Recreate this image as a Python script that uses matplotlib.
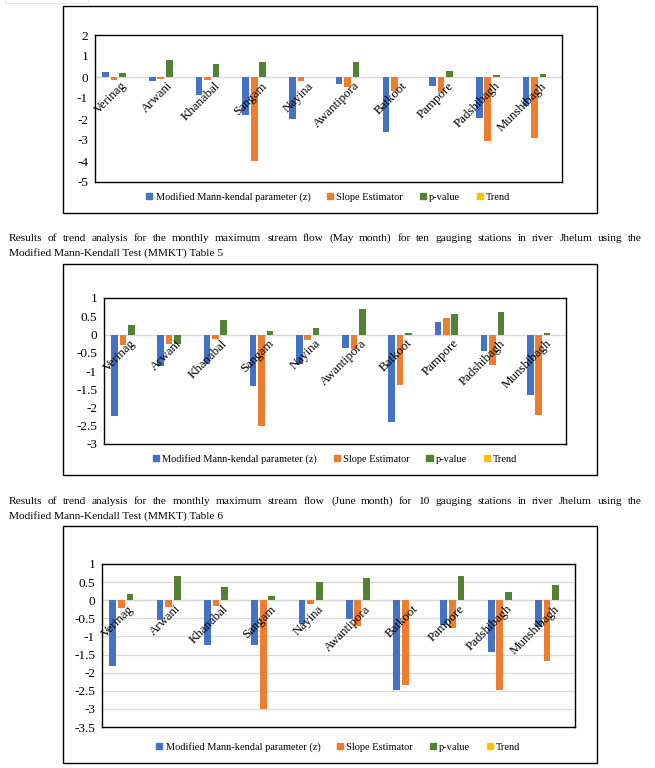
import numpy as np
import matplotlib
matplotlib.use("Agg")
import matplotlib.pyplot as plt
from matplotlib.patches import Rectangle, Patch
from matplotlib.transforms import offset_copy

plt.rcParams['font.family'] = ['Liberation Serif', 'DejaVu Serif']
plt.rcParams['axes.unicode_minus'] = False

stations = ["Verinag", "Arwani", "Khanabal", "Sangam", "Nayina",
            "Awantipora", "Batkoot", "Pampore", "Padshibagh", "Munshibagh"]
series_names = ["Modified Mann-kendal parameter (z)", "Slope Estimator", "p-value", "Trend"]
colors = ["#4472C4", "#ED7D31", "#548235", "#FFC000"]

# first chart (month before May)
first_z = [0.22, -0.17, -0.84, -1.79, -1.98, -0.33, -2.60, -0.41, -1.97, -1.40]
first_slope = [-0.13, -0.08, -0.13, -3.98, -0.17, -0.46, -0.65, -0.70, -3.03, -2.92]
first_p = [0.20, 0.82, 0.63, 0.73, 0.0, 0.73, 0.0, 0.30, 0.11, 0.16]
first_trend = [0, 0, 0, 0, 0, 0, 0, 0, 0, 0]

# May
may_z = [-2.23, -0.86, -0.82, -1.40, -0.82, -0.37, -2.40, 0.35, -0.44, -1.66]
may_slope = [-0.30, -0.27, -0.12, -2.51, -0.14, -0.40, -1.39, 0.46, -0.83, -2.21]
may_p = [0.25, -0.27, 0.41, 0.10, 0.19, 0.70, 0.03, 0.57, 0.62, 0.03]
may_trend = [0, 0, 0, 0, 0, 0, 0, 0, 0, 0]

# June
june_z = [-1.81, -0.55, -1.24, -1.23, -0.65, -0.51, -2.49, -0.69, -1.42, -0.75]
june_slope = [-0.22, -0.19, -0.15, -3.01, -0.10, -0.72, -2.33, -0.78, -2.49, -1.67]
june_p = [0.18, 0.68, 0.37, 0.13, 0.49, 0.62, 0.0, 0.68, 0.24, 0.43]
june_trend = [0, 0, 0, 0, 0, 0, 0, 0, 0, 0]

caption_may = ("Results of trend analysis for the monthly maximum stream flow (May month) for ten gauging stations in river Jhelum using the",
               "Modified Mann-Kendall Test (MMKT) Table 5")
caption_june = ("Results of trend analysis for the monthly maximum stream flow (June month) for 10 gauging stations in river Jhelum using the",
                "Modified Mann-Kendall Test (MMKT) Table 6")

W, H = 655, 768
fig = plt.figure(figsize=(W / 100, H / 100), dpi=100)


def rect(x0, y0, x1, y1):
    return [x0 / W, 1 - y1 / H, (x1 - x0) / W, (y1 - y0) / H]


def border(x0, y0, x1, y1, color="black", lw=1.0):
    r = Rectangle((x0 / W, 1 - y1 / H), (x1 - x0) / W, (y1 - y0) / H,
                  transform=fig.transFigure, fill=False, ec=color, lw=lw)
    fig.add_artist(r)


def bar_chart(box, outer, data, ymin, ymax, step, grid, legend_y):
    border(*outer)
    ax = fig.add_axes(rect(*box))
    x = np.arange(len(stations))
    w = 1 / 7
    for k, vals in enumerate(data):
        off = (k - 1.5) * 1.27 * w
        ax.bar(x + off, vals, width=w, color=colors[k], zorder=3)
    ax.set_xlim(-0.5, len(stations) - 0.5)
    ax.set_ylim(ymin, ymax)
    ticks = np.arange(ymin, ymax + step / 2, step)
    ax.set_yticks(ticks)
    ax.set_yticklabels(["{:g}".format(round(t, 2)) for t in ticks], fontsize=9.5)
    ax.tick_params(axis="y", length=0, pad=5)
    ax.set_xticks([])
    if grid:
        ax.yaxis.grid(True, color="#D9D9D9", lw=0.9, zorder=0)
    ax.axhline(0, color="#D9D9D9", lw=1.0, zorder=1)
    for s in ax.spines.values():
        s.set_linewidth(1.0)
        s.set_color("black")
    trans = offset_copy(ax.transData, fig=fig, x=1.5, y=-2, units="points")
    for i, name in enumerate(stations):
        ax.text(i, 0, name, rotation=45, rotation_mode="anchor", ha="right", va="top",
                fontsize=9.3, transform=trans, zorder=4)
    handles = [Patch(color=c) for c in colors]
    cx = (box[0] + box[2]) / 2 / W
    fig.legend(handles, series_names, loc="center", bbox_to_anchor=(cx, 1 - legend_y / H),
               ncol=4, frameon=False, fontsize=7.5, handlelength=0.6, handleheight=0.6,
               handletextpad=0.3, columnspacing=1.6)
    return ax


def justified(lines, y_first, spacing, x0=9, x1=642, size=8.2):
    renderer = fig.canvas.get_renderer()
    for j, line in enumerate(lines):
        y = 1 - (y_first + j * spacing) / H
        if j < len(lines) - 1:
            words = line.split(" ")
            texts = [fig.text(0, y, wd, fontsize=size, va="baseline") for wd in words]
            widths = [t.get_window_extent(renderer).width for t in texts]
            gap = (x1 - x0 - sum(widths)) / (len(words) - 1)
            pos = x0
            for t, wdt in zip(texts, widths):
                t.set_x(round(pos) / W)
                pos += wdt + gap
        else:
            fig.text(x0 / W, y, line, fontsize=size, va="baseline")


# faint box at the top-left corner
border(5, -1, 88, 3, color="#E6E6E6", lw=0.8)

bar_chart((95, 35, 562, 182), (63, 6, 597, 213),
          [first_z, first_slope, first_p, first_trend], -5, 2, 1, False, 197)

justified(caption_may, 241, 15)

bar_chart((104, 298, 566, 444), (63, 264, 597, 475),
          [may_z, may_slope, may_p, may_trend], -3, 1, 0.5, False, 459)

justified(caption_june, 504, 15)

bar_chart((102, 564, 575, 727), (63, 526, 597, 763),
          [june_z, june_slope, june_p, june_trend], -3.5, 1, 0.5, True, 747)

fig.savefig("out.png", dpi=100)
